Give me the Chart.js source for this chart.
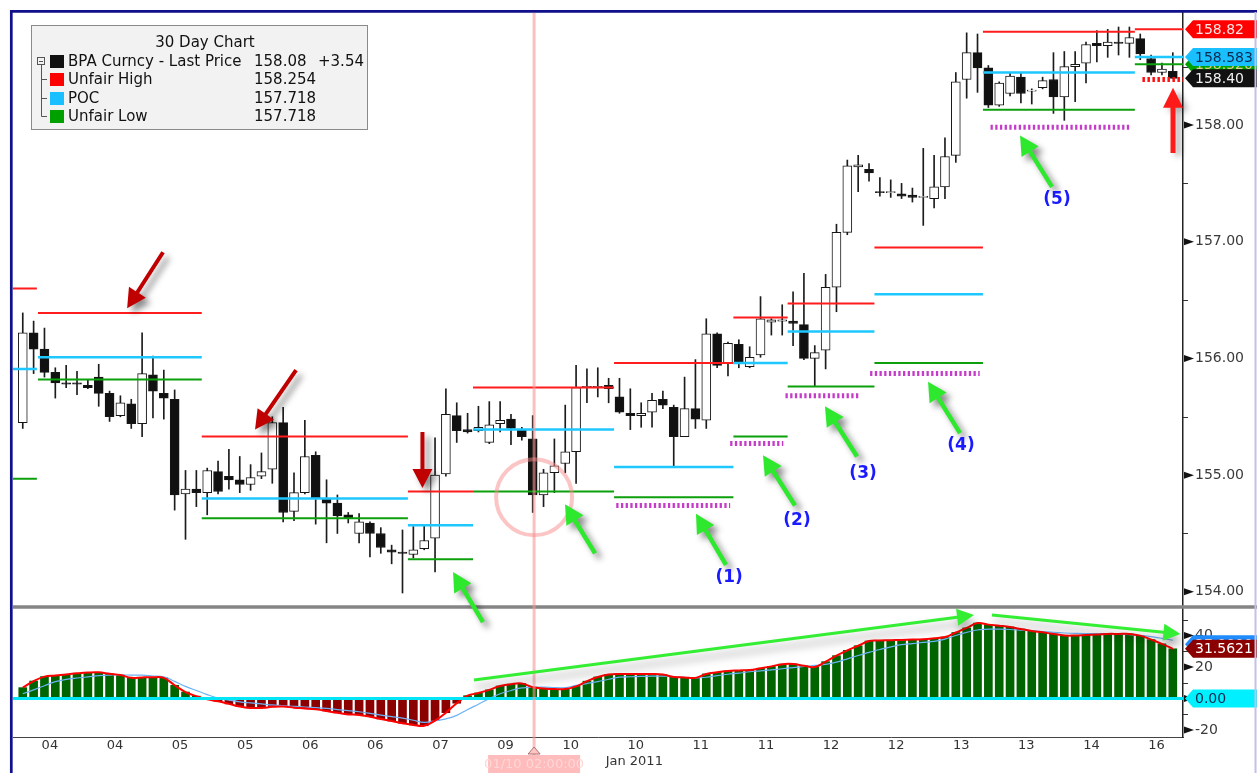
<!DOCTYPE html>
<html>
<head>
<meta charset="utf-8">
<title>BPA Curncy - 30 Day Chart</title>
<script src="https://cdn.jsdelivr.net/npm/chart.js@4.4.1/dist/chart.umd.min.js"></script>
<style>
  html, body { margin: 0; padding: 0; background: #fff; }
  #chart { display: block; }
</style>
</head>
<body>
<canvas id="chart" width="1257" height="773"></canvas>
<script>
// day labels, one per block of six bars
const dayLabels = ['04','04','05','05','06','06','07','09','10','10','11','11','12','12','13','13','14','16'];

// BPA Curncy bars
const opens = [
  155.45,156.22,156.08,155.88,155.79,155.79,155.77,155.84,155.70,155.51,
  155.61,155.44,155.86,155.70,155.65,154.84,154.88,154.85,155.03,154.99,
  154.96,154.92,154.99,155.05,155.45,154.69,154.85,155.17,154.80,154.76,
  154.66,154.50,154.59,154.50,154.36,154.34,154.32,154.37,154.46,155.01,
  155.51,155.39,155.38,155.28,155.44,155.48,155.39,155.31,154.83,155.02,
  155.10,155.20,155.75,155.75,155.77,155.67,155.53,155.51,155.54,155.65,
  155.58,155.33,155.57,155.47,156.21,155.96,156.12,155.93,156.03,156.31,
  156.32,156.32,156.29,156.00,156.07,156.61,157.08,157.64,157.62,157.43,
  157.42,157.41,157.40,157.38,157.37,157.47,157.74,158.39,158.62,158.49,
  158.17,158.27,158.41,158.29,158.32,158.39,158.24,158.50,158.53,158.70,
  158.68,158.71,158.70,158.74,158.57,158.45,158.46
];
const highs = [
  156.39,156.32,156.26,155.92,155.94,155.89,155.82,155.95,155.72,155.68,
  155.65,156.22,156.02,155.90,155.73,155.04,155.04,155.06,155.12,155.22,
  155.16,155.09,155.19,155.50,155.58,155.02,155.47,155.20,154.96,154.83,
  154.68,154.67,154.60,154.55,154.40,154.53,154.56,154.57,155.32,155.74,
  155.62,155.53,155.59,155.63,155.63,155.52,155.41,155.51,155.05,155.31,
  155.60,155.94,155.91,155.92,155.83,155.83,155.74,155.62,155.70,155.72,
  155.60,155.84,155.99,156.34,156.22,156.14,156.16,156.10,156.53,156.34,
  156.46,156.57,156.73,156.11,156.72,157.15,157.70,157.74,157.67,157.55,
  157.53,157.50,157.46,157.80,157.74,157.89,158.45,158.79,158.78,158.51,
  158.37,158.45,158.45,158.31,158.41,158.62,158.63,158.63,158.71,158.81,
  158.82,158.84,158.84,158.78,158.60,158.53,158.62
];
const lows = [
  155.40,155.87,155.84,155.66,155.75,155.69,155.74,155.59,155.46,155.50,
  155.40,155.33,155.49,155.48,154.70,154.45,154.73,154.66,154.84,154.88,
  154.85,154.87,154.97,154.93,154.60,154.61,154.84,154.58,154.42,154.50,
  154.59,154.42,154.30,154.33,154.24,153.99,154.29,154.36,154.17,154.99,
  155.28,155.36,155.37,155.27,155.37,155.26,155.30,154.68,154.73,154.85,
  155.02,154.93,155.62,155.67,155.62,155.53,155.39,155.41,155.41,155.57,
  155.08,155.33,155.40,155.40,155.92,155.85,155.92,155.92,156.01,156.20,
  156.20,156.11,155.99,155.76,155.91,156.40,157.06,157.43,157.52,157.39,
  157.38,157.37,157.34,157.14,157.29,157.37,157.68,158.23,158.28,158.15,
  158.16,158.25,158.19,158.18,158.31,158.10,158.04,158.20,158.36,158.54,
  158.58,158.60,158.58,158.56,158.43,158.43,158.40
];
const closes = [
  156.22,156.08,155.88,155.79,155.78,155.78,155.75,155.70,155.50,155.62,
  155.44,155.87,155.72,155.66,154.83,154.88,154.85,155.04,154.86,154.96,
  154.92,154.98,155.03,155.45,154.68,154.85,155.16,154.80,154.76,154.65,
  154.63,154.60,154.50,154.38,154.34,154.33,154.36,154.44,155.00,155.52,
  155.38,155.37,155.41,155.43,155.47,155.40,155.33,154.83,155.02,155.08,
  155.20,155.75,155.76,155.76,155.74,155.54,155.51,155.53,155.64,155.60,
  155.33,155.57,155.48,156.21,155.94,156.13,155.96,156.01,156.34,156.33,
  156.33,156.30,156.00,156.05,156.61,157.08,157.65,157.66,157.59,157.42,
  157.43,157.39,157.38,157.39,157.47,157.73,158.37,158.62,158.49,158.17,
  158.36,158.42,158.27,158.30,158.38,158.24,158.50,158.52,158.69,158.68,
  158.71,158.70,158.75,158.61,158.45,158.48,158.40
];

// momentum histogram and its signal line
const momentum = [
  6.9,11.1,13.9,14.6,15.3,16.0,16.5,16.6,15.7,14.9,
  13.1,13.4,13.5,13.1,8.4,4.1,1.5,-0.5,-1.8,-3.4,
  -5.1,-6.0,-6.0,-5.3,-5.1,-5.8,-6.3,-6.9,-7.9,-9.1,
  -10.1,-10.4,-11.6,-13.0,-14.3,-15.7,-16.8,-17.3,-14.0,-9.0,
  -3.0,1.8,3.5,5.5,7.9,9.1,9.5,7.2,6.4,6.0,
  6.0,7.7,11.0,13.7,15.3,15.6,15.6,15.6,15.6,15.2,
  13.7,13.4,13.1,15.6,16.6,17.5,17.8,18.1,19.2,20.4,
  21.8,21.9,20.8,20.0,23.4,27.2,30.6,33.5,36.5,36.8,
  37.0,37.2,37.4,37.6,38.2,39.0,41.9,44.8,47.9,46.9,
  46.2,45.4,44.1,42.9,42.0,41.0,40.0,40.0,40.3,40.6,
  41.0,41.0,41.0,39.9,37.4,34.7,31.5621
];
const signal = [
  3.0,5.5,8.1,10.7,12.2,13.0,13.7,14.5,14.9,14.9,
  14.9,14.8,14.3,13.7,10.9,7.7,5.1,2.5,0.2,-1.0,
  -2.1,-2.8,-3.4,-4.1,-4.5,-5.0,-5.4,-5.8,-6.3,-7.0,
  -7.7,-8.4,-9.4,-10.5,-11.5,-12.4,-13.8,-15.2,-14.3,-12.9,
  -10.7,-7.0,-3.6,-0.1,3.0,5.1,6.7,7.1,7.2,6.9,
  6.9,8.3,9.5,10.7,12.2,13.6,13.8,14.0,14.2,14.2,
  13.8,13.5,13.1,13.5,14.5,15.4,16.1,17.0,17.5,18.2,
  18.9,19.6,20.3,21.0,21.7,23.1,25.2,27.3,29.3,31.1,
  32.8,34.2,34.9,35.6,36.3,37.7,40.0,42.0,43.5,44.0,
  44.0,43.8,43.4,43.0,42.5,42.0,41.6,41.3,41.2,41.2,
  41.1,41.0,40.6,40.0,39.3,38.2,37.0
];

const priceTicks = [154, 155, 156, 157, 158];
const priceMinor = [154.5, 155.5, 156.5, 157.5, 158.5];
const oscTicks = [-20, 20, 40];
const oscMinor = [-10, 10, 30, 50];

// per-session value area: unfair high / point of control / unfair low
const sessionStart = [-0.9, 1.4, 16.5, 35.5, 41.5, 54.5, 65.5, 70.5, 78.5, 88.5, 102.5];
const sessionEnd   = [1.3, 16.5, 35.5, 41.5, 54.5, 65.5, 70.5, 78.5, 88.5, 102.5, 106.94];
const unfairHigh = [156.60, 156.39, 155.33, 154.86, 155.75, 155.96, 156.35, 156.47, 156.95, 158.80, 158.82];
const pocLevel   = [155.91, 156.01, 154.80, 154.57, 155.39, 155.07, 155.96, 156.23, 156.55, 158.45, 158.583];
const unfairLow  = [154.97, 155.82, 154.63, 154.28, 154.86, 154.81, 155.33, 155.76, 155.96, 158.13, 158.52];

// dotted support marks under each higher low
const targetStart = [54.7, 65.2, 70.3, 78.1, 89.2];
const targetEnd   = [65.2, 70.1, 77.1, 88.2, 102.2];
const targetLevel = [154.74, 155.27, 155.68, 155.87, 157.98];
const stopStart = [103.2], stopEnd = [106.94], stopLevel = [158.39];

// legend box contents
const legendNames  = ['BPA Curncy - Last Price', 'Unfair High', 'POC', 'Unfair Low'];
const legendValues = ['158.08', '158.254', '157.718', '157.718'];
const legendColors = ['#111111', '#ff0000', '#19bfff', '#00a000'];

// hand-drawn notes, in bar index / price (or momentum) units
const redArrows = [[12.93,156.91, 9.62,156.43], [25.19,155.90, 21.41,155.39], [36.84,155.37, 36.84,154.89]];
const greenArrows = [
  [42.42,153.74, 39.66,154.17], [52.75,154.33, 49.98,154.75], [64.82,154.23, 62.05,154.67],
  [71.18,154.74, 68.23,155.17], [76.90,155.16, 73.94,155.59], [86.39,155.36, 83.44,155.80],
  [94.87,157.47, 91.92,157.91]
];
const divergenceLines = [[41.59,11.7, 87.68,53.0], [89.33,53.0, 106.7,41.0]];
const upArrow = [106.02,157.76, 106.02,158.32];
const noteLabels = [['(1)',65.1,154.12], ['(2)',71.36,154.61], ['(3)',77.45,155.01], ['(4)',86.48,155.25], ['(5)',95.33,157.36]];
const cursorBar = 47.13, circleAt = [47.13, 154.81];
const cursorText = '01/10 02:00:00';
const panelFloor = 153.87;

const FONT = '"DejaVu Sans", Verdana, sans-serif';
const idx = opens.map((_, i) => i);

function segments(levels, starts, ends) {
  const pts = [];
  levels.forEach((v, k) => {
    pts.push({ x: starts[k], y: v }, { x: ends[k], y: v }, { x: ends[k], y: null });
  });
  return pts;
}

function levelLine(levels, starts, ends, color, width, dash, order) {
  return {
    type: 'line', yAxisID: 'y', data: segments(levels, starts, ends),
    borderColor: color, borderWidth: width, borderDash: dash || [],
    pointRadius: 0, spanGaps: false, tension: 0, order: order
  };
}

function drawArrow(ctx, x1, y1, x2, y2, color, shaft, headLen, headHalf, shadow) {
  const a = Math.atan2(y2 - y1, x2 - x1);
  const len = Math.hypot(x2 - x1, y2 - y1);
  ctx.save();
  ctx.shadowColor = shadow.color;
  ctx.shadowBlur = shadow.blur;
  ctx.shadowOffsetX = shadow.dx;
  ctx.shadowOffsetY = shadow.dy;
  ctx.translate(x1, y1);
  ctx.rotate(a);
  ctx.beginPath();
  ctx.moveTo(0, -shaft / 2);
  ctx.lineTo(len - headLen, -shaft / 2);
  ctx.lineTo(len - headLen, -headHalf);
  ctx.lineTo(len, 0);
  ctx.lineTo(len - headLen, headHalf);
  ctx.lineTo(len - headLen, shaft / 2);
  ctx.lineTo(0, shaft / 2);
  ctx.closePath();
  ctx.fillStyle = color;
  ctx.fill();
  ctx.restore();
}

function drawTag(ctx, left, y, text, fill, color) {
  const tip = left + 2, body = left + 10, right = 1257, h = 9;
  ctx.beginPath();
  ctx.moveTo(tip, y);
  ctx.lineTo(body, y - h);
  ctx.lineTo(right, y - h);
  ctx.lineTo(right, y + h);
  ctx.lineTo(body, y + h);
  ctx.closePath();
  ctx.fillStyle = fill;
  ctx.fill();
  ctx.fillStyle = color;
  ctx.font = '14px ' + FONT;
  ctx.textAlign = 'left';
  ctx.textBaseline = 'middle';
  ctx.fillText(text, body + 2, y + 1);
}

function drawMarker(ctx, x, y) {
  ctx.beginPath();
  ctx.moveTo(x + 1, y - 3.5);
  ctx.lineTo(x + 11, y);
  ctx.lineTo(x + 1, y + 3.5);
  ctx.closePath();
  ctx.fillStyle = '#111';
  ctx.fill();
}

function drawLegend(ctx) {
  const bx = 31, by = 25, bw = 336, bh = 104;
  ctx.fillStyle = '#f2f2f2';
  ctx.fillRect(bx, by, bw, bh);
  ctx.strokeStyle = '#8a8a8a';
  ctx.lineWidth = 1;
  ctx.strokeRect(bx + 0.5, by + 0.5, bw, bh);

  ctx.fillStyle = '#111';
  ctx.font = '15px ' + FONT;
  ctx.textBaseline = 'middle';
  ctx.textAlign = 'center';
  ctx.fillText('30 Day Chart', 205, 43);

  // tree connector
  ctx.strokeStyle = '#555';
  ctx.lineWidth = 1;
  ctx.strokeRect(37.5, 57.5, 7, 7);
  ctx.beginPath();
  ctx.moveTo(39, 61.5); ctx.lineTo(43, 61.5);
  ctx.moveTo(41.5, 65); ctx.lineTo(41.5, 116.5);
  [79.5, 98.5, 116.5].forEach(ry => { ctx.moveTo(41.5, ry); ctx.lineTo(47, ry); });
  ctx.stroke();

  const rowY = [61, 79, 98, 116];
  ctx.textAlign = 'left';
  legendNames.forEach((name, k) => {
    ctx.fillStyle = legendColors[k];
    ctx.fillRect(50, rowY[k] - 6, 14, 13);
    ctx.fillStyle = '#111';
    ctx.fillText(name, 68, rowY[k] + 1);
    ctx.fillText(legendValues[k], 254, rowY[k] + 1);
  });
  ctx.fillText('+3.54', 318, rowY[0] + 1);
}

const decorations = {
  id: 'decorations',
  beforeDraw(chart) {
    const { ctx, width, height } = chart;
    ctx.save();
    ctx.fillStyle = '#fff';
    ctx.fillRect(0, 0, width, height);
    ctx.restore();
  },
  afterDatasetsDraw(chart) {
    const { ctx, chartArea: area, scales: { x, y } } = chart;
    ctx.save();
    // separator between price and momentum panels
    const sepY = y.getPixelForValue(panelFloor);
    ctx.strokeStyle = '#858585';
    ctx.lineWidth = 3.5;
    ctx.beginPath();
    ctx.moveTo(area.left, sepY);
    ctx.lineTo(chart.width, sepY);
    ctx.stroke();

    // cursor line and circle
    const cx = x.getPixelForValue(cursorBar);
    ctx.strokeStyle = 'rgba(248, 150, 150, 0.6)';
    ctx.lineWidth = 3;
    ctx.beginPath();
    ctx.moveTo(cx, area.top);
    ctx.lineTo(cx, chart.height);
    ctx.stroke();
    ctx.strokeStyle = 'rgba(250, 140, 140, 0.5)';
    ctx.lineWidth = 4;
    ctx.beginPath();
    ctx.arc(x.getPixelForValue(circleAt[0]), y.getPixelForValue(circleAt[1]), 38, 0, Math.PI * 2);
    ctx.stroke();
    ctx.restore();
  },
  afterDraw(chart) {
    const { ctx, chartArea: area, scales: { x, y, osc } } = chart;
    ctx.save();

    // axis markers and minor ticks
    priceTicks.forEach(v => drawMarker(ctx, area.right, y.getPixelForValue(v)));
    oscTicks.concat([0]).forEach(v => drawMarker(ctx, area.right, osc.getPixelForValue(v)));
    ctx.strokeStyle = '#333';
    ctx.lineWidth = 1;
    ctx.beginPath();
    priceMinor.forEach(v => { const py = Math.round(y.getPixelForValue(v)) + 0.5; ctx.moveTo(area.right, py); ctx.lineTo(area.right + 5, py); });
    oscMinor.forEach(v => { const py = Math.round(osc.getPixelForValue(v)) + 0.5; ctx.moveTo(area.right, py); ctx.lineTo(area.right + 5, py); });
    ctx.stroke();

    // momentum axis labels
    ctx.fillStyle = '#3a3a3a';
    ctx.font = '14px ' + FONT;
    ctx.textAlign = 'left';
    ctx.textBaseline = 'middle';
    oscTicks.forEach(v => ctx.fillText(String(v), area.right + 12, osc.getPixelForValue(v)));

    // notes
    const redShadow = { color: 'rgba(0,0,0,0.45)', blur: 6, dx: 5, dy: 5 };
    redArrows.forEach(a => drawArrow(ctx, x.getPixelForValue(a[0]), y.getPixelForValue(a[1]),
      x.getPixelForValue(a[2]), y.getPixelForValue(a[3]), '#c00000', 4, 19, 10, redShadow));
    greenArrows.forEach(a => drawArrow(ctx, x.getPixelForValue(a[0]), y.getPixelForValue(a[1]),
      x.getPixelForValue(a[2]), y.getPixelForValue(a[3]), '#2ee82e', 4.5, 19, 10, redShadow));
    const lowShadow = { color: 'rgba(0,0,0,0.35)', blur: 8, dx: 2, dy: 7 };
    divergenceLines.forEach(a => drawArrow(ctx, x.getPixelForValue(a[0]), osc.getPixelForValue(a[1]),
      x.getPixelForValue(a[2]), osc.getPixelForValue(a[3]), '#33ee33', 3, 17, 8.5, lowShadow));
    drawArrow(ctx, x.getPixelForValue(upArrow[0]), y.getPixelForValue(upArrow[1]),
      x.getPixelForValue(upArrow[2]), y.getPixelForValue(upArrow[3]), '#ff1a1a', 5, 20, 10,
      { color: 'rgba(0,0,0,0.35)', blur: 6, dx: 5, dy: 3 });

    ctx.fillStyle = '#1a1aff';
    ctx.font = 'bold 17px ' + FONT;
    ctx.textAlign = 'center';
    ctx.textBaseline = 'middle';
    noteLabels.forEach(n => ctx.fillText(n[0], x.getPixelForValue(n[1]), y.getPixelForValue(n[2])));

    drawLegend(ctx);

    // last-value tags, price panel
    const last = idx.length - 1;
    const tagLeft = area.right;
    drawTag(ctx, tagLeft, y.getPixelForValue(unfairLow[unfairLow.length - 1]), unfairLow[unfairLow.length - 1].toFixed(3), '#00a000', '#e8c890');
    drawTag(ctx, tagLeft, y.getPixelForValue(pocLevel[pocLevel.length - 1]), pocLevel[pocLevel.length - 1].toFixed(3), '#19bfff', '#0a2a50');
    drawTag(ctx, tagLeft, y.getPixelForValue(closes[last]), closes[last].toFixed(2), '#111111', '#f0f0f0');
    drawTag(ctx, tagLeft, y.getPixelForValue(unfairHigh[unfairHigh.length - 1]), unfairHigh[unfairHigh.length - 1].toFixed(2), '#ff0000', '#ffe4e4');

    // last-value tags, momentum panel (signal tag sits under the momentum tag)
    drawTag(ctx, tagLeft, osc.getPixelForValue(signal[last]) + 4, signal[last].toFixed(4), '#1e8cff', '#ffffff');
    drawTag(ctx, tagLeft, osc.getPixelForValue(momentum[last]), momentum[last].toFixed(4), '#8b0000', '#ffffff');
    drawTag(ctx, tagLeft, osc.getPixelForValue(0), '0.00', '#00f0ff', '#0a2a50');

    // cursor date box
    const cx = x.getPixelForValue(cursorBar);
    ctx.fillStyle = '#ffbcbc';
    ctx.fillRect(cx - 46, 755, 92, 18);
    ctx.fillStyle = '#ffd6d6';
    ctx.font = '13px ' + FONT;
    ctx.textAlign = 'center';
    ctx.textBaseline = 'middle';
    ctx.fillText(cursorText, cx, 765);
    ctx.beginPath();
    ctx.moveTo(cx - 6, 754);
    ctx.lineTo(cx, 747);
    ctx.lineTo(cx + 6, 754);
    ctx.closePath();
    ctx.fillStyle = '#ffc4c4';
    ctx.fill();
    ctx.strokeStyle = '#b07070';
    ctx.lineWidth = 1;
    ctx.stroke();

    ctx.fillStyle = '#333';
    ctx.textAlign = 'left';
    ctx.fillText('Jan 2011', x.getPixelForValue(2.5 + 6 * 8) + 35, 762);

    // outer frame
    ctx.strokeStyle = '#10108a';
    ctx.lineWidth = 2.7;
    ctx.beginPath();
    ctx.moveTo(10, 11.3);
    ctx.lineTo(chart.width, 11.3);
    ctx.moveTo(11.3, 10);
    ctx.lineTo(11.3, chart.height);
    ctx.stroke();
    ctx.strokeStyle = '#c6c0e6';
    ctx.lineWidth = 2;
    ctx.beginPath();
    ctx.moveTo(chart.width - 1.5, 12);
    ctx.lineTo(chart.width - 1.5, chart.height);
    ctx.stroke();
    ctx.restore();
  }
};

new Chart(document.getElementById('chart').getContext('2d'), {
  type: 'bar',
  data: {
    datasets: [
      levelLine(unfairHigh, sessionStart, sessionEnd, '#ff1c1c', 2, null, 0),
      levelLine(pocLevel, sessionStart, sessionEnd, '#1ec8ff', 2.5, null, 0),
      levelLine(unfairLow, sessionStart, sessionEnd, '#0ca00c', 2, null, 0),
      levelLine(targetLevel, targetStart, targetEnd, '#c43cc8', 5, [2.3, 2.4], 1),
      levelLine(stopLevel, stopStart, stopEnd, '#ff1010', 5, [2.5, 2.5], 1),
      {
        type: 'bar', yAxisID: 'y', grouped: false, order: 3,
        data: idx.map(i => ({ x: i, y: [opens[i], closes[i]] })),
        backgroundColor: idx.map(i => closes[i] >= opens[i] ? '#ffffff' : '#111111'),
        borderColor: '#161616', borderWidth: 1, borderSkipped: false, barThickness: 9
      },
      {
        type: 'bar', yAxisID: 'y', grouped: false, order: 4,
        data: idx.map(i => ({ x: i, y: [lows[i], highs[i]] })),
        backgroundColor: '#1c1c1c', barThickness: 1
      },
      {
        type: 'line', yAxisID: 'osc', order: 0,
        data: [{ x: -0.9, y: 0 }, { x: 106.94, y: 0 }],
        borderColor: '#00e6f6', borderWidth: 3, pointRadius: 0
      },
      {
        type: 'line', yAxisID: 'osc', order: 1,
        data: idx.map(i => ({ x: i, y: momentum[i] })),
        borderColor: '#ff0000', borderWidth: 2, pointRadius: 0, tension: 0.4
      },
      {
        type: 'line', yAxisID: 'osc', order: 2,
        data: idx.map(i => ({ x: i, y: signal[i] })),
        borderColor: '#6cb2f6', borderWidth: 1.2, pointRadius: 0, tension: 0.3
      },
      {
        type: 'bar', yAxisID: 'osc', grouped: false, order: 5,
        data: idx.map(i => ({ x: i, y: momentum[i] })),
        backgroundColor: momentum.map(v => v >= 0 ? '#006400' : '#8b0000'),
        barThickness: 8
      }
    ]
  },
  options: {
    responsive: false,
    animation: false,
    devicePixelRatio: 1,
    layout: { padding: { left: 13, top: 13, right: 0, bottom: 0 } },
    plugins: { legend: { display: false }, tooltip: { enabled: false } },
    scales: {
      x: {
        type: 'linear', min: -0.9, max: 106.94, offset: false,
        afterBuildTicks: s => { s.ticks = dayLabels.map((_, k) => ({ value: 2.5 + 6 * k })); },
        afterFit: s => { s.height = 36; s.paddingLeft = 0; s.paddingRight = 0; },
        ticks: {
          callback: (v, i) => dayLabels[i], autoSkip: false, maxRotation: 0,
          font: { family: FONT, size: 13 }, color: '#333', padding: 1
        },
        grid: { display: false, drawTicks: false, offset: false },
        border: { color: '#444', width: 1 }
      },
      y: {
        type: 'linear', position: 'right', min: 152.756, max: 158.96,
        afterBuildTicks: s => { s.ticks = priceTicks.map(v => ({ value: v })); },
        afterFit: s => { s.width = 74; s.paddingTop = 0; s.paddingBottom = 0; },
        ticks: {
          callback: v => v.toFixed(2),
          font: { family: FONT, size: 14 }, color: '#3a3a3a', padding: 12
        },
        grid: { display: false, drawTicks: false },
        border: { color: '#222', width: 1.5 }
      },
      osc: {
        type: 'linear', axis: 'y', position: 'right', display: false,
        min: -24.44, max: 435.2
      }
    }
  },
  plugins: [decorations]
});
</script>
</body>
</html>
